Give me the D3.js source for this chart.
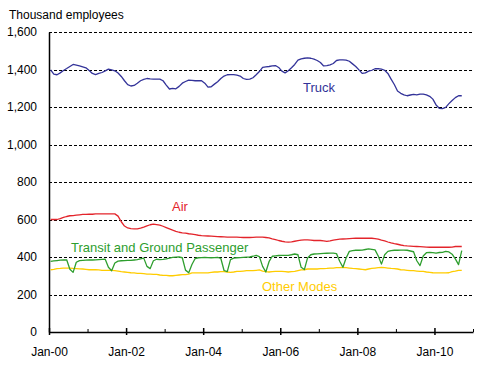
<!DOCTYPE html>
<html><head><meta charset="utf-8">
<script src="https://cdn.jsdelivr.net/npm/d3@7"></script>
<style>
html,body{margin:0;padding:0;background:#fff;}
svg{display:block;font-family:"Liberation Sans",Arial,sans-serif;}
</style></head>
<body>
<svg id="chart" width="500" height="368"></svg>
<script>
// Monthly data, Jan 2000 .. Sep 2010 (thousand employees)
const truck = [1398,1375,1372,1382,1395,1405,1416,1427,1423,1419,1414,1409,
1395,1379,1373,1379,1384,1393,1402,1398,1393,1381,1363,1340,
1319,1312,1315,1327,1340,1347,1352,1350,1349,1349,1349,1340,
1317,1296,1299,1297,1310,1327,1336,1343,1342,1340,1340,1340,
1327,1306,1308,1322,1335,1352,1365,1372,1373,1373,1370,1365,
1352,1347,1349,1356,1372,1389,1411,1414,1416,1419,1421,1411,
1391,1382,1393,1409,1427,1450,1457,1460,1462,1460,1455,1448,
1437,1419,1421,1425,1432,1448,1451,1451,1450,1444,1430,1416,
1398,1379,1382,1391,1396,1404,1405,1402,1396,1379,1349,1320,
1285,1273,1265,1260,1264,1267,1265,1269,1269,1265,1257,1242,
1211,1193,1191,1198,1218,1235,1250,1260,1260];
const air = [600,600,600,605,611,616,620,621,623,625,627,627,
628,628,630,630,630,630,630,630,630,618,588,565,
555,551,550,550,554,559,566,572,575,573,570,564,
557,550,543,537,532,529,527,524,522,519,516,514,
513,512,511,510,509,508,507,506,506,506,506,505,
504,504,504,505,506,506,506,504,502,497,493,488,
484,481,479,481,484,487,490,491,491,490,488,488,
488,486,483,486,490,493,495,496,497,498,499,500,
500,500,500,500,500,498,495,490,486,480,475,471,
468,464,461,459,458,457,456,455,454,453,452,452,
452,452,452,452,452,453,456,456,456];
const transit = [377,379,381,383,384,385,335,318,372,381,382,383,
384,384,385,386,387,388,345,327,368,378,380,381,
382,382,384,386,390,394,350,338,380,388,386,387,
390,394,398,399,400,396,330,316,360,392,396,397,
398,397,396,397,398,392,328,322,386,394,396,397,
398,399,400,404,409,402,350,320,375,404,406,408,
409,409,409,412,416,412,345,333,395,412,416,417,
418,419,420,421,421,418,377,345,395,430,434,436,
436,437,440,443,441,438,405,362,412,430,434,436,
436,437,437,436,432,428,380,354,405,423,425,423,
421,424,425,430,427,415,390,359,434];
const other = [332,334,338,339,341,341,341,339,338,337,336,334,
332,332,332,331,329,329,329,329,327,325,322,320,
318,316,315,313,313,311,309,309,307,307,304,302,
302,300,300,302,304,306,306,309,315,315,315,315,
315,315,318,320,320,322,322,320,318,320,323,323,
325,327,327,327,329,331,325,322,320,322,323,323,
323,322,320,322,323,327,331,332,336,336,336,336,
338,338,339,341,341,343,343,345,343,341,339,338,
336,334,332,336,339,341,343,345,343,341,339,338,
336,332,331,329,327,327,325,323,323,320,318,316,
315,315,315,315,316,322,325,329,329];

const seriesNames = ["Truck","Air","Transit and Ground Passenger","Other Modes"];
const seriesColors = ["#333399","#E3242B","#2E9E2E","#FFCC00"];
const yTicks = [0,200,400,600,800,1000,1200,1400,1600];
const xLabelMonths = [0,24,48,72,96,120];
const xLabels = ["Jan-00","Jan-02","Jan-04","Jan-06","Jan-08","Jan-10"];
const xMinorMonths = [12,36,60,84,108,132];
const nCategories = 132;

const svg = d3.select("#chart");
const x = d3.scaleLinear().domain([0,nCategories]).range([49,473]);
const y = d3.scaleLinear().domain([0,1600]).range([332,32]);

// title
svg.append("text").attr("x",9).attr("y",19).attr("font-size",12).attr("fill","#000")
  .text("Thousand employees");

// gridlines
svg.append("g").selectAll("line").data(yTicks.filter(d=>d>0)).join("line")
  .attr("x1",x(0)).attr("x2",x(nCategories))
  .attr("y1",d=>Math.round(y(d))+0.5).attr("y2",d=>Math.round(y(d))+0.5)
  .attr("stroke","#000").attr("stroke-width",1).attr("stroke-dasharray","3,2");

// y axis
const yAxis = svg.append("g").attr("transform",`translate(${x(0)},0)`)
  .call(d3.axisLeft(y).tickValues(yTicks).tickFormat(d3.format(",")).tickSize(0).tickPadding(12));
yAxis.select(".domain").attr("stroke","#000").attr("stroke-width",1.5);
yAxis.selectAll("text").attr("font-size",12).attr("fill","#000").attr("font-family","Liberation Sans, Arial, sans-serif");

// x axis
const xAxis = svg.append("g").attr("transform",`translate(0,${y(0)})`)
  .call(d3.axisBottom(x).tickValues(xLabelMonths).tickFormat((d,i)=>xLabels[i]).tickSizeInner(3).tickSizeOuter(0).tickPadding(12.5));
xAxis.select(".domain").attr("stroke","#000").attr("stroke-width",1.5);
xAxis.selectAll(".tick line").attr("y1",-4).attr("stroke","#000").attr("stroke-width",1.5);
xAxis.selectAll("text").attr("font-size",12).attr("fill","#000").attr("font-family","Liberation Sans, Arial, sans-serif");
const xMinor = svg.append("g").attr("transform",`translate(0,${y(0)})`)
  .call(d3.axisBottom(x).tickValues(xMinorMonths).tickFormat("").tickSizeInner(-3).tickSizeOuter(0));
xMinor.select(".domain").remove();
xMinor.selectAll(".tick line").attr("stroke","#000").attr("stroke-width",1);

// series lines (straight segments between monthly points)
const line = d3.line().x((d,i)=>x(i+0.5)).y(d=>y(d)).curve(d3.curveLinear);
const allSeries = [truck, air, transit, other];
[3,2,1,0].forEach(k=>{
  svg.append("path").datum(allSeries[k]).attr("d",line)
    .attr("fill","none").attr("stroke",seriesColors[k]).attr("stroke-width",1.3)
    .attr("stroke-linejoin","round");
});

// series labels
const labelPos = [
  {k:0, x:303, y:92},
  {k:1, x:172, y:211},
  {k:2, x:71, y:252},
  {k:3, x:262, y:291}
];
svg.append("g").selectAll("text").data(labelPos).join("text")
  .attr("x",d=>d.x).attr("y",d=>d.y).attr("font-size",13)
  .attr("fill",d=>seriesColors[d.k]).text(d=>seriesNames[d.k]);
</script>
</body></html>
